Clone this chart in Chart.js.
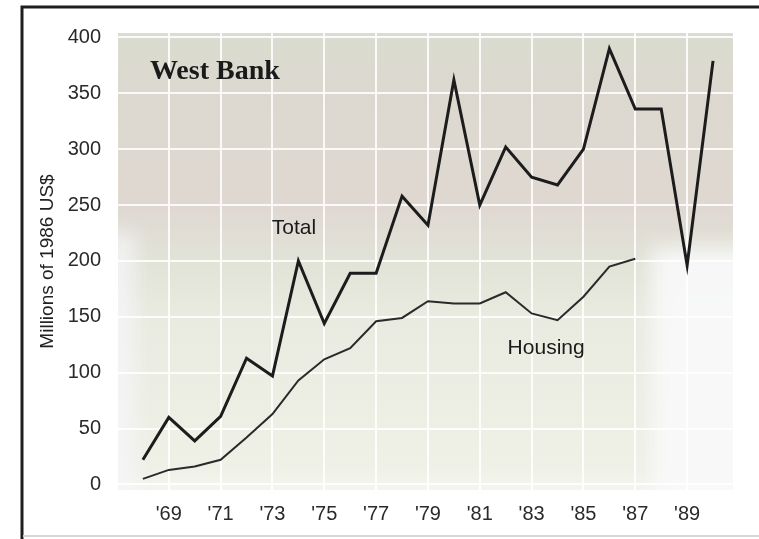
<!DOCTYPE html>
<html>
<head>
<meta charset="utf-8">
<script src="https://cdn.jsdelivr.net/npm/chart.js@4/dist/chart.umd.min.js"></script>
<style>
  html, body { margin: 0; padding: 0; background: #fff; }
  #wrap { width: 759px; height: 539px; position: relative; }
</style>
</head>
<body>
<div id="wrap"><canvas id="chart" width="759" height="539"></canvas></div>
<script>
"use strict";
// values
const years = [1968, 1969, 1970, 1971, 1972, 1973, 1974, 1975, 1976, 1977, 1978, 1979,
  1980, 1981, 1982, 1983, 1984, 1985, 1986, 1987, 1988, 1989, 1990];
const total = [22, 60, 39, 61, 113, 97, 200, 144, 189, 189, 258, 232,
  362, 250, 302, 275, 268, 300, 390, 336, 336, 196, 379];
const housing = [5, 13, 16, 22, 42, 63, 93, 112, 122, 146, 149, 164,
  162, 162, 172, 153, 147, 168, 195, 202];
const xTicks = [1969, 1971, 1973, 1975, 1977, 1979, 1981, 1983, 1985, 1987, 1989];
const yTicks = [0, 50, 100, 150, 200, 250, 300, 350, 400];

const toPoints = (vals) => vals.map((v, i) => ({ x: years[i], y: v }));

const sansFont = "'Liberation Sans', Arial, sans-serif";

// textured paper-ish backdrop behind the plot
const backdrop = {
  id: "backdrop",
  beforeDraw(chart) {
    const { ctx, chartArea: a, scales } = chart;
    const w = a.right - a.left, hgt = a.bottom - a.top;
    ctx.save();
    const g = ctx.createLinearGradient(0, a.top, 0, a.bottom);
    g.addColorStop(0, "#dadcd0");
    g.addColorStop(0.14, "#dcd8cf");
    g.addColorStop(0.38, "#dfd8d2");
    g.addColorStop(0.5, "#e1e3d7");
    g.addColorStop(0.62, "#e9ebe0");
    g.addColorStop(0.95, "#eff0e6");
    g.addColorStop(1, "#f4f5ef");
    ctx.fillStyle = g;
    ctx.fillRect(a.left, a.top, w, hgt);
    // pale, blurred patches: left strip and lower right corner
    ctx.beginPath();
    ctx.rect(a.left, a.top, w, hgt);
    ctx.clip();
    ctx.filter = "blur(10px)";
    ctx.fillStyle = "rgba(246,246,249,0.75)";
    ctx.fillRect(a.left - 30, scales.y.getPixelForValue(225), 48, hgt);
    ctx.fillStyle = "rgba(248,248,250,0.92)";
    const x0 = scales.x.getPixelForValue(1987.6);
    const y0 = scales.y.getPixelForValue(212);
    ctx.fillRect(x0, y0, a.right - x0 + 40, a.bottom - y0 + 40);
    ctx.restore();
  },
  afterDraw(chart) {
    const { ctx, scales } = chart;
    const x = scales.x, y = scales.y;
    ctx.save();
    // frame of the scanned page
    ctx.strokeStyle = "#1e1e1e";
    ctx.lineWidth = 3;
    ctx.beginPath();
    ctx.moveTo(759, 7);
    ctx.lineTo(22, 7);
    ctx.lineTo(22, 539);
    ctx.stroke();
    ctx.strokeStyle = "#d8d8d8";
    ctx.lineWidth = 2;
    ctx.beginPath();
    ctx.moveTo(23, 536);
    ctx.lineTo(759, 536);
    ctx.stroke();
    // text labels
    ctx.fillStyle = "#1a1a1a";
    ctx.textBaseline = "middle";
    ctx.font = "bold 28px 'Liberation Serif', 'Times New Roman', serif";
    ctx.textAlign = "left";
    ctx.fillText("West Bank", x.getPixelForValue(1968.27), y.getPixelForValue(369));
    ctx.font = "21px " + sansFont;
    ctx.textAlign = "center";
    ctx.fillText("Total", x.getPixelForValue(1973.83), y.getPixelForValue(229));
    ctx.fillText("Housing", x.getPixelForValue(1983.56), y.getPixelForValue(122));
    ctx.restore();
  }
};

new Chart(document.getElementById("chart"), {
  type: "line",
  data: {
    datasets: [
      {
        label: "Total",
        data: toPoints(total),
        borderColor: "#1c1c1c",
        borderWidth: 3,
        pointRadius: 0,
        tension: 0,
        borderJoinStyle: "miter"
      },
      {
        label: "Housing",
        data: toPoints(housing),
        borderColor: "#2a2a2a",
        borderWidth: 2,
        pointRadius: 0,
        tension: 0
      }
    ]
  },
  options: {
    responsive: false,
    animation: false,
    layout: { padding: { top: 33, right: 26, left: 0, bottom: 0 } },
    plugins: { legend: { display: false }, tooltip: { enabled: false } },
    scales: {
      x: {
        type: "linear",
        min: 1967.04,
        max: 1990.77,
        afterBuildTicks: (s) => { s.ticks = xTicks.map((v) => ({ value: v })); },
        afterFit: (s) => { s.height = 49; },
        grid: { color: "rgba(255,255,255,0.85)", lineWidth: 2, drawTicks: false },
        border: { display: false },
        ticks: {
          padding: 12,
          color: "#2a2a2a",
          font: { family: sansFont, size: 20 },
          maxRotation: 0,
          autoSkip: false,
          callback: (v) => "'" + String(v).slice(2)
        }
      },
      y: {
        min: -5,
        max: 404,
        afterBuildTicks: (s) => { s.ticks = yTicks.map((v) => ({ value: v })); },
        afterFit: (s) => { s.width = 118; },
        grid: { color: "rgba(255,255,255,0.85)", lineWidth: 2, drawTicks: false },
        border: { display: false },
        ticks: {
          padding: 17,
          color: "#2a2a2a",
          font: { family: sansFont, size: 20 }
        },
        title: {
          display: true,
          text: "Millions of 1986 US$",
          color: "#222",
          font: { family: sansFont, size: 19 },
          padding: { top: 36, bottom: 0 }
        }
      }
    }
  },
  plugins: [backdrop]
});
</script>
</body>
</html>
